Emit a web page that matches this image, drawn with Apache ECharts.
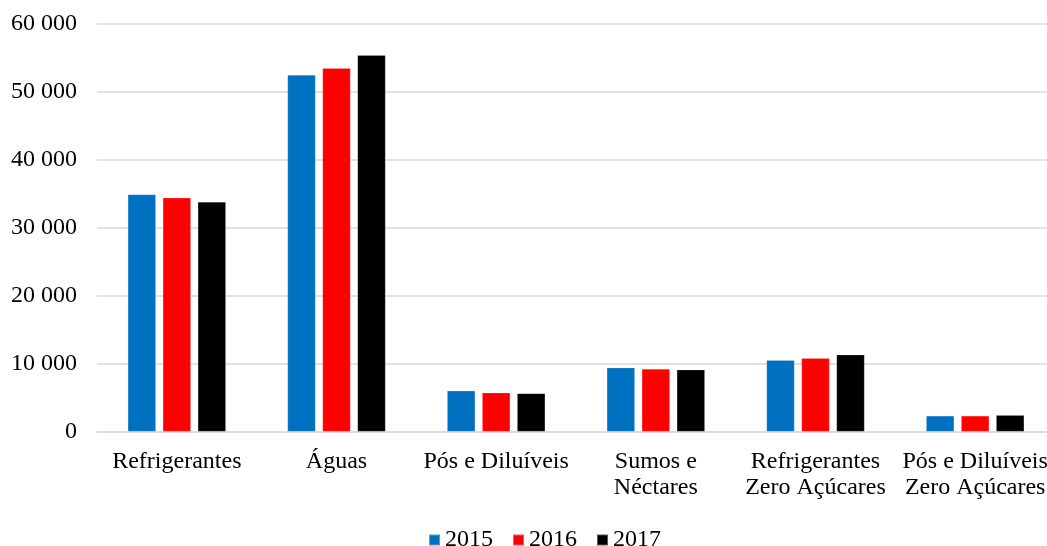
<!DOCTYPE html>
<html>
<head>
<meta charset="utf-8">
<script src="https://cdn.jsdelivr.net/npm/echarts@6/dist/echarts.min.js"></script>
<style>
  html, body { margin: 0; padding: 0; background: #fff; }
  #chart { width: 1047px; height: 546px; }
</style>
</head>
<body>
<div id="chart"></div>
<script>
// Beverage categories and yearly volumes
const categories = [
  'Refrigerantes',
  'Águas',
  'Pós e Diluíveis',
  'Sumos e\nNéctares',
  'Refrigerantes\nZero Açúcares',
  'Pós e Diluíveis\nZero Açúcares'
];
const years = ['2015', '2016', '2017'];
const values2015 = [34900, 52500, 6000, 9400, 10500, 2300];
const values2016 = [34400, 53500, 5700, 9200, 10800, 2300];
const values2017 = [33800, 55400, 5600, 9100, 11300, 2400];
const colors = ['#0070C0', '#FF0000', '#000000'];

const font = '"Liberation Serif", "Times New Roman", serif';

function spaced(v) {
  return String(v).replace(/\B(?=(\d{3})+(?!\d))/g, ' ');
}

const chart = echarts.init(document.getElementById('chart'), null, { renderer: 'canvas' });

const seriesData = [values2015, values2016, values2017];

chart.setOption({
  animation: false,
  backgroundColor: '#ffffff',
  textStyle: { fontFamily: font },
  grid: {
    left: 97, top: 24, width: 958, height: 407.5,
    containLabel: false,
    outerBoundsMode: 'none'
  },
  legend: {
    data: years,
    bottom: -11,
    left: 423,
    icon: 'rect',
    itemWidth: 11,
    itemHeight: 11,
    itemGap: 19,
    textStyle: { fontFamily: font, fontSize: 24, color: '#000' }
  },
  xAxis: {
    type: 'category',
    data: categories,
    axisLine: { lineStyle: { color: '#D9D9D9', width: 1.5 } },
    axisTick: { show: false },
    axisLabel: {
      interval: 0,
      margin: 17,
      color: '#000',
      fontFamily: font,
      fontSize: 24,
      lineHeight: 26,
      hideOverlap: false
    }
  },
  yAxis: {
    type: 'value',
    min: 0,
    max: 60000,
    interval: 10000,
    axisLine: { show: false },
    axisTick: { show: false },
    splitLine: { lineStyle: { color: '#D9D9D9', width: 1.5 } },
    axisLabel: {
      margin: 20,
      color: '#000',
      fontFamily: font,
      fontSize: 24,
      formatter: spaced
    }
  },
  series: years.map((y, i) => ({
    name: y,
    type: 'bar',
    data: seriesData[i],
    barWidth: 28,
    barGap: '25%',
    itemStyle: { color: colors[i], borderColor: 'rgba(255,255,255,0.35)', borderWidth: 0.5 }
  })),
  color: colors
});
</script>
</body>
</html>
